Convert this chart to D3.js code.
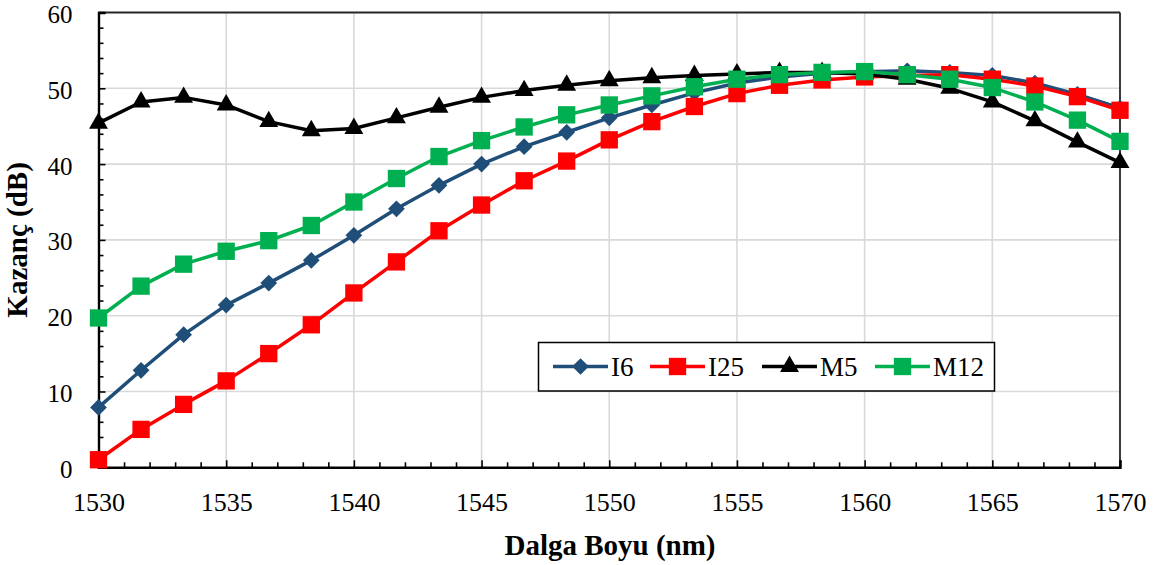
<!DOCTYPE html>
<html>
<head>
<meta charset="utf-8">
<script src="https://cdn.jsdelivr.net/npm/d3@7"></script>
<style>
  html, body { margin: 0; padding: 0; background: #fff; }
  svg { display: block; }
  text { font-family: "Liberation Serif", "Times New Roman", serif; fill: #000; }
</style>
</head>
<body>
<svg id="chart" width="1160" height="565"></svg>
<script>
// Wavelength samples (nm): 25 points from 1530 to 1570
const wavelengths = [1530, 1531.667, 1533.333, 1535, 1536.667, 1538.333, 1540,
  1541.667, 1543.333, 1545, 1546.667, 1548.333, 1550, 1551.667, 1553.333, 1555,
  1556.667, 1558.333, 1560, 1561.667, 1563.333, 1565, 1566.667, 1568.333, 1570];

// Gain (dB) for each configuration
const gainI6  = [7.9, 12.8, 17.5, 21.4, 24.3, 27.3, 30.6, 34.1, 37.2, 40.0, 42.3, 44.2,
  46.1, 47.8, 49.4, 50.7, 51.5, 52.0, 52.2, 52.3, 52.1, 51.7, 50.7, 49.2, 47.4];
const gainI25 = [1.0, 5.0, 8.3, 11.4, 15.0, 18.8, 23.0, 27.1, 31.2, 34.6, 37.8, 40.4,
  43.2, 45.6, 47.6, 49.3, 50.4, 51.1, 51.5, 51.7, 51.8, 51.2, 50.3, 48.9, 47.1];
const gainM5  = [45.4, 48.2, 48.8, 47.8, 45.6, 44.4, 44.7, 46.1, 47.5, 48.8, 49.7, 50.4,
  51.0, 51.4, 51.7, 51.9, 52.1, 52.1, 51.9, 51.2, 50.0, 48.2, 45.7, 42.9, 40.2];
const gainM12 = [19.7, 23.9, 26.8, 28.5, 29.9, 31.9, 35.0, 38.1, 41.0, 43.1, 44.9, 46.5,
  47.8, 49.0, 50.2, 51.2, 51.8, 52.1, 52.2, 51.8, 51.2, 50.1, 48.2, 45.8, 43.0];

const seriesNames  = ["I6", "I25", "M5", "M12"];
const seriesColors = ["#1f4e79", "#ff0000", "#000000", "#00b050"];
const seriesShapes = ["diamond", "square", "triangle", "square"];

const xTicks = [1530, 1535, 1540, 1545, 1550, 1555, 1560, 1565, 1570];
const yTicks = [0, 10, 20, 30, 40, 50, 60];
const xTitle = "Dalga Boyu (nm)";
const yTitle = "Kazanç (dB)";

const seriesValues = [gainI6, gainI25, gainM5, gainM12];
const series = seriesNames.map((name, i) => ({
  name, color: seriesColors[i], shape: seriesShapes[i],
  points: wavelengths.map((w, j) => ({ x: w, y: seriesValues[i][j] }))
}));

const svg = d3.select("#chart");
const plotLeft = 98.5, plotRight = 1120, plotTop = 12.5, plotBottom = 467.3;

const x = d3.scaleLinear().domain([1530, 1570]).range([plotLeft, plotRight]);
const y = d3.scaleLinear().domain([0, 60]).range([plotBottom, plotTop]);

// Gridlines
const grid = svg.append("g");
grid.selectAll(".vg").data(xTicks.slice(1, -1)).join("line")
  .attr("x1", d => x(d)).attr("x2", d => x(d))
  .attr("y1", plotTop).attr("y2", plotBottom)
  .attr("stroke", "#d9d9d9").attr("stroke-width", 1.6);
grid.selectAll(".hg").data(yTicks.slice(1, -1)).join("line")
  .attr("x1", plotLeft).attr("x2", plotRight)
  .attr("y1", d => y(d)).attr("y2", d => y(d))
  .attr("stroke", "#d9d9d9").attr("stroke-width", 1.6);

// Frame: top and right borders
svg.append("line").attr("x1", plotLeft).attr("x2", plotRight).attr("y1", plotTop).attr("y2", plotTop)
  .attr("stroke", "#262626").attr("stroke-width", 1.8);
svg.append("line").attr("x1", plotRight).attr("x2", plotRight).attr("y1", plotTop).attr("y2", plotBottom)
  .attr("stroke", "#262626").attr("stroke-width", 1.8);

// Minor ticks (inside)
const xMinor = d3.range(1531, 1570, 1).filter(v => v % 5 !== 0);
const yMinor = d3.range(2, 60, 2).filter(v => v % 10 !== 0);

const xAxis = svg.append("g").attr("transform", `translate(0,${plotBottom})`)
  .call(d3.axisBottom(x).tickValues(xTicks).tickSize(-7).tickFormat(d3.format("d")));
xAxis.select(".domain").attr("stroke-width", 2.4).attr("stroke", "#000");
xAxis.selectAll(".tick line").attr("stroke-width", 1.6);
xAxis.selectAll(".tick text").style("font-size", "26px").attr("dy", "0.71em").attr("y", 25);
svg.append("g").attr("transform", `translate(0,${plotBottom})`)
  .call(d3.axisBottom(x).tickValues(xMinor).tickSize(-5).tickFormat(""))
  .call(g => g.select(".domain").remove())
  .selectAll(".tick line").attr("stroke-width", 1.6);

const yAxis = svg.append("g").attr("transform", `translate(${plotLeft},0)`)
  .call(d3.axisLeft(y).tickValues(yTicks).tickSize(-7));
yAxis.select(".domain").attr("stroke-width", 2.4).attr("stroke", "#000");
yAxis.selectAll(".tick line").attr("stroke-width", 1.6);
yAxis.selectAll(".tick text").style("font-size", "25px").attr("x", -26).attr("dy", "0.4em");
svg.append("g").attr("transform", `translate(${plotLeft},0)`)
  .call(d3.axisLeft(y).tickValues(yMinor).tickSize(-5).tickFormat(""))
  .call(g => g.select(".domain").remove())
  .selectAll(".tick line").attr("stroke-width", 1.6);

// Marker shapes
const symbolFor = {
  diamond: d3.symbol().type(d3.symbolSquare).size(140),
  square: d3.symbol().type(d3.symbolSquare).size(300),
  triangle: d3.symbol().type(d3.symbolTriangle).size(155)
};
function drawMarker(sel, s) {
  const p = sel.append("path").attr("d", symbolFor[s.shape]()).attr("fill", s.color);
  if (s.shape === "diamond") p.attr("transform", "rotate(45)");
  return p;
}

const line = d3.line().x(d => x(d.x)).y(d => y(d.y));

series.forEach(s => {
  const g = svg.append("g");
  g.append("path").datum(s.points).attr("d", line)
    .attr("fill", "none").attr("stroke", s.color).attr("stroke-width", 3.5)
    .attr("stroke-linejoin", "round");
  g.selectAll("g.m").data(s.points).join("g").attr("class", "m")
    .attr("transform", d => `translate(${x(d.x)},${y(d.y)})`)
    .each(function () { drawMarker(d3.select(this), s); });
});

// Legend
const legend = svg.append("g");
legend.append("rect").attr("x", 538.5).attr("y", 342.5).attr("width", 456).attr("height", 48.5)
  .attr("fill", "#fff").attr("stroke", "#000").attr("stroke-width", 1.5);
const legendX = [553, 650, 762, 875];
series.forEach((s, i) => {
  const g = legend.append("g").attr("transform", `translate(${legendX[i]},366.5)`);
  g.append("line").attr("x1", 0).attr("x2", 55).attr("stroke", s.color).attr("stroke-width", 3.5);
  drawMarker(g.append("g").attr("transform", "translate(27.5,0)"), s);
  g.append("text").attr("x", 58).attr("y", 9).style("font-size", "27px").text(s.name);
});

// Axis titles
svg.append("text").attr("x", 610).attr("y", 555).attr("text-anchor", "middle")
  .style("font-size", "29px").style("font-weight", "bold").text(xTitle);
svg.append("text").attr("transform", `translate(27,${(plotTop + plotBottom) / 2}) rotate(-90)`)
  .attr("text-anchor", "middle").style("font-size", "29px").style("font-weight", "bold")
  .text(yTitle);
</script>
</body>
</html>
